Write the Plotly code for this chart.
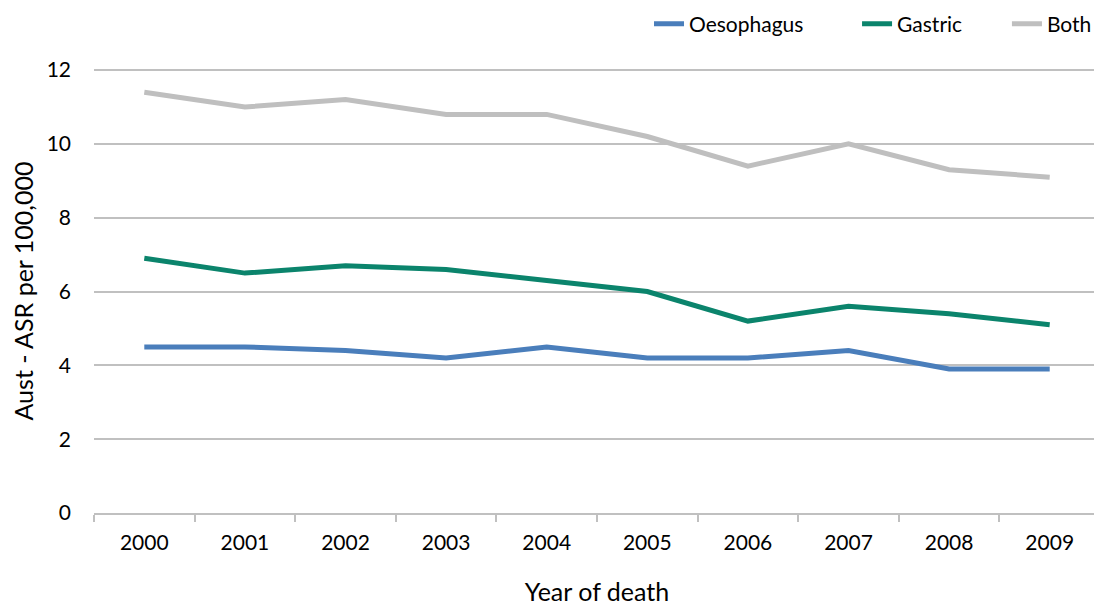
import plotly.graph_objects as go

years = ["2000", "2001", "2002", "2003", "2004", "2005", "2006", "2007", "2008", "2009"]
oesophagus = [4.5, 4.5, 4.4, 4.2, 4.5, 4.2, 4.2, 4.4, 3.9, 3.9]
gastric = [6.9, 6.5, 6.7, 6.6, 6.3, 6.0, 5.2, 5.6, 5.4, 5.1]
both = [11.4, 11.0, 11.2, 10.8, 10.8, 10.2, 9.4, 10.0, 9.3, 9.1]

font_name = "Lato"
grid = "#C0C0C0"

# the page body adds 8px around the figure, so size it down to fit the window
fig = go.Figure()
series = [("Oesophagus", oesophagus, "#4A7EBB", "legend", 0.5517),
          ("Gastric", gastric, "#0B846C", "legend2", 0.7585),
          ("Both", both, "#BFBFBF", "legend3", 0.9075)]
legends = {}
for name, vals, col, leg, lx in series:
    fig.add_trace(go.Scatter(x=years, y=vals, name=name, mode="lines", legend=leg,
                             showlegend=True, line=dict(color=col, width=5)))
    legends[leg] = dict(orientation="h", x=lx, xanchor="left", y=1.101, yanchor="middle",
                        font=dict(size=21), bgcolor="rgba(0,0,0,0)")

fig.update_layout(
    width=1094, height=598,
    margin=dict(l=86, r=2, t=61, b=93, autoexpand=False),
    showlegend=True,
    paper_bgcolor="white", plot_bgcolor="white",
    font=dict(family=font_name, size=21, color="#000000"),
    xaxis=dict(type="category", showgrid=False, showline=True, linecolor=grid, linewidth=2,
               ticks="outside", tickson="boundaries", ticklen=7, tickcolor=grid, tickwidth=2,
               range=[-0.5, 9.5], automargin=False, ticklabelstandoff=10,
               title=dict(text="Year of death", standoff=48)),
    yaxis=dict(range=[0, 12.03], dtick=2, showgrid=True, gridcolor=grid, gridwidth=2,
               zeroline=False, showline=False, ticks="", ticklabelstandoff=22,
               automargin=False,
               title=dict(text="Aust - ASR per 100,000", standoff=19)),
    **legends,
)

fig.write_html("out.html")
